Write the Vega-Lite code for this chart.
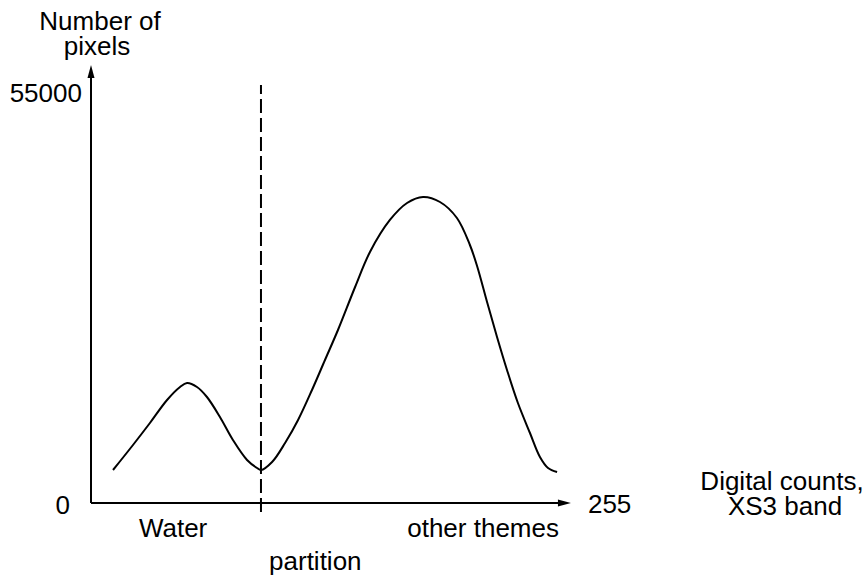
{
  "$schema": "https://vega.github.io/schema/vega-lite/v6.json",
  "width": 480,
  "height": 438,
  "autosize": {"type": "none"},
  "padding": {"left": 91, "top": 65, "right": 297, "bottom": 78},
  "background": "white",
  "config": {"view": {"stroke": null}, "text": {"font": "Liberation Sans", "fontSize": 26, "color": "black"}},
  "datasets": {
    "curve": [
      {"x": 11.7, "y": 4415}, {"x": 22.3, "y": 7760}, {"x": 31.3, "y": 10703}, {"x": 40.4, "y": 13780},
      {"x": 47.3, "y": 15520}, {"x": 51.0, "y": 16055}, {"x": 56.3, "y": 15520}, {"x": 61.6, "y": 14182},
      {"x": 68.5, "y": 11506}, {"x": 75.4, "y": 8429}, {"x": 82.9, "y": 5753}, {"x": 88.2, "y": 4683},
      {"x": 90.3, "y": 4415}, {"x": 96.2, "y": 5485}, {"x": 103.1, "y": 8027}, {"x": 110.0, "y": 11105},
      {"x": 117.4, "y": 15118}, {"x": 124.3, "y": 19132}, {"x": 131.2, "y": 23146}, {"x": 140.3, "y": 28899},
      {"x": 148.2, "y": 33581}, {"x": 158.8, "y": 37863}, {"x": 167.9, "y": 40137}, {"x": 176.4, "y": 40940},
      {"x": 185.4, "y": 40271}, {"x": 194.4, "y": 38130}, {"x": 201.3, "y": 34518}, {"x": 205.1, "y": 31709},
      {"x": 210.4, "y": 26892}, {"x": 215.7, "y": 22209}, {"x": 221.0, "y": 17794}, {"x": 226.8, "y": 13379},
      {"x": 233.2, "y": 9365}, {"x": 238.5, "y": 6154}, {"x": 242.8, "y": 4683}, {"x": 247.6, "y": 4147}
    ],
    "axes": [
      {"x": 0, "y": 0, "x2": 0, "y2": 57731},
      {"x": 0, "y": 0, "x2": 251.5, "y2": 0}
    ],
    "arrows": [
      {"x": 0, "y": 57731, "dir": "up"},
      {"x": 251.5, "y": 0, "dir": "right"}
    ],
    "partition": [
      {"x": 90.3, "y": -1204, "y2": 55924}
    ],
    "labelsCenter": [
      {"x": 4.8, "y": 63283, "text": "Number of"},
      {"x": 3.2, "y": 59938, "text": "pixels"},
      {"x": 43.6, "y": -4549, "text": "Water"},
      {"x": 208.3, "y": -4549, "text": "other themes"},
      {"x": 367.1, "y": 1739, "text": "Digital counts,"},
      {"x": 368.7, "y": -1605, "text": "XS3 band"}
    ],
    "labelsRight": [
      {"x": -4.8, "y": 53650, "text": "55000"},
      {"x": -11.2, "y": -1472, "text": "0"}
    ],
    "labelsLeft": [
      {"x": 264.0, "y": -1338, "text": "255"},
      {"x": 94.6, "y": -8964, "text": "partition"}
    ]
  },
  "layer": [
    {
      "data": {"name": "axes"},
      "mark": {"type": "rule", "color": "black", "strokeWidth": 2},
      "encoding": {
        "x": {"field": "x", "type": "quantitative", "scale": {"domain": [0, 255], "nice": false, "zero": false}, "axis": null},
        "y": {"field": "y", "type": "quantitative", "scale": {"domain": [0, 58600], "nice": false, "zero": false}, "axis": null},
        "x2": {"field": "x2"},
        "y2": {"field": "y2"}
      }
    },
    {
      "data": {"name": "arrows"},
      "mark": {"type": "point", "filled": true, "color": "black", "size": 169, "opacity": 1},
      "encoding": {
        "x": {"field": "x", "type": "quantitative"},
        "y": {"field": "y", "type": "quantitative"},
        "shape": {"field": "dir", "type": "nominal", "legend": null,
          "scale": {"domain": ["up", "right"], "range": ["M0,-1L0.54,1L-0.54,1Z", "M1,0L-1,0.54L-1,-0.54Z"]}}
      }
    },
    {
      "data": {"name": "partition"},
      "mark": {"type": "rule", "color": "black", "strokeWidth": 2, "strokeDash": [14, 5]},
      "encoding": {
        "x": {"field": "x", "type": "quantitative"},
        "y": {"field": "y", "type": "quantitative"},
        "y2": {"field": "y2"}
      }
    },
    {
      "data": {"name": "curve"},
      "mark": {"type": "line", "color": "black", "strokeWidth": 2, "interpolate": "catmull-rom"},
      "encoding": {
        "x": {"field": "x", "type": "quantitative"},
        "y": {"field": "y", "type": "quantitative"}
      }
    },
    {
      "data": {"name": "labelsCenter"},
      "mark": {"type": "text", "align": "center", "baseline": "alphabetic"},
      "encoding": {
        "x": {"field": "x", "type": "quantitative"},
        "y": {"field": "y", "type": "quantitative"},
        "text": {"field": "text"}
      }
    },
    {
      "data": {"name": "labelsRight"},
      "mark": {"type": "text", "align": "right", "baseline": "alphabetic"},
      "encoding": {
        "x": {"field": "x", "type": "quantitative"},
        "y": {"field": "y", "type": "quantitative"},
        "text": {"field": "text"}
      }
    },
    {
      "data": {"name": "labelsLeft"},
      "mark": {"type": "text", "align": "left", "baseline": "alphabetic"},
      "encoding": {
        "x": {"field": "x", "type": "quantitative"},
        "y": {"field": "y", "type": "quantitative"},
        "text": {"field": "text"}
      }
    }
  ]
}
